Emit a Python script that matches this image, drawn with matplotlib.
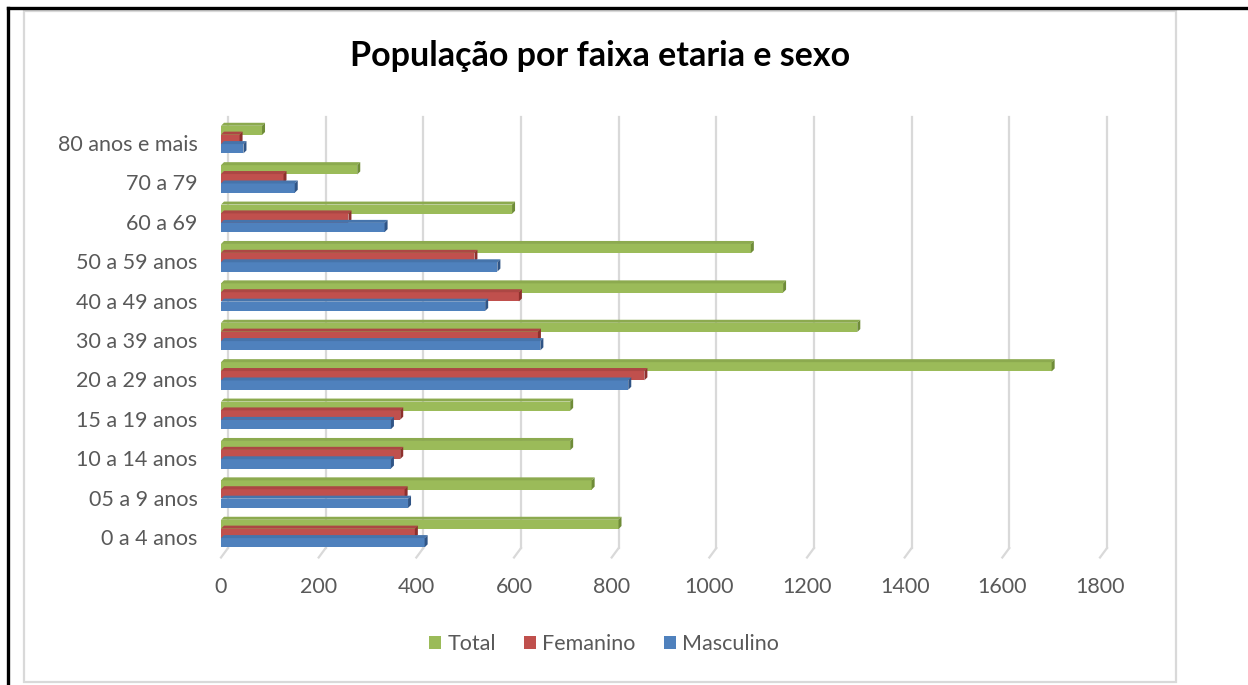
import matplotlib
matplotlib.use("Agg")
import matplotlib.pyplot as plt
from matplotlib.patches import Rectangle, Patch
from matplotlib.lines import Line2D
import numpy as np

plt.rcParams['font.family'] = ['Lato', 'DejaVu Sans']

categories = ["0 a 4 anos", "05 a 9 anos", "10 a 14 anos", "15 a 19 anos",
              "20 a 29 anos", "30 a 39 anos", "40 a 49 anos", "50 a 59 anos",
              "60 a 69", "70 a 79", "80 anos e mais"]
masculino = [417, 383, 348, 348, 834, 654, 541, 566, 335, 151, 46]
feminino = [397, 376, 367, 367, 867, 649, 610, 519, 261, 128, 38]
total = [814, 759, 715, 715, 1701, 1303, 1151, 1085, 596, 279, 84]
xticks = [0, 200, 400, 600, 800, 1000, 1200, 1400, 1600, 1800]

W, H = 1248, 685
fig = plt.figure(figsize=(W / 100, H / 100), dpi=100)
fig.patch.set_facecolor('white')

def fx(px):
    return px / W
def fy(py):
    return 1 - py / H

fig.add_artist(Rectangle((fx(24), fy(682)), fx(1176) - fx(24), fy(11) - fy(682),
                         transform=fig.transFigure, fill=False,
                         edgecolor='#d9d9d9', linewidth=1.6))
fig.add_artist(Line2D([fx(8), fx(1248)], [fy(8), fy(8)], transform=fig.transFigure,
                      color='black', linewidth=2.4))
fig.add_artist(Line2D([fx(8), fx(8)], [fy(8), fy(685)], transform=fig.transFigure,
                      color='black', linewidth=2.4))

ax_left, ax_right = 221, 1100
ax_top, ax_bot = 117, 558
ax = fig.add_axes([fx(ax_left), fy(ax_bot), (ax_right - ax_left) / W, (ax_bot - ax_top) / H])
ax.set_xlim(0, 1800)
ax.set_ylim(-0.533, 10.66)
ax.patch.set_alpha(0)
for s in ax.spines.values():
    s.set_visible(False)

px_per_unit = (ax_right - ax_left) / 1800.0
px_per_cat = 39.4
grid_off = 7 / px_per_unit
y_floor_top = -0.28
y_floor_bot = -0.52

for v in xticks:
    ax.plot([v + grid_off, v + grid_off], [y_floor_top, 10.66], color='#d9d9d9',
            linewidth=1.6, zorder=0, clip_on=False)
    ax.plot([v + grid_off, v], [y_floor_top, y_floor_bot], color='#d9d9d9',
            linewidth=1.6, zorder=0, clip_on=False)

y = np.arange(len(categories))
bh = 0.235
series = [
    ("Total", total, 0.32, '#9BBB59', '#8CAA4F', '#6F8C38'),
    ("Femanino", feminino, 0.095, '#C0504D', '#AC4744', '#8E302D'),
    ("Masculino", masculino, -0.145, '#4F81BD', '#4674AB', '#305586'),
]
dx = 3 / px_per_unit
dy = 3 / px_per_cat
z = 2
for name, vals, off, c_front, c_top, c_side in series:
    for i, v in enumerate(vals):
        yc = y[i] + off
        b, t = yc - bh / 2, yc + bh / 2
        ax.barh(yc, v, height=bh, color=c_front, edgecolor='none', zorder=z)
        ax.fill([0, v, v + dx, dx], [t, t, t + dy, t + dy], color=c_top,
                linewidth=0, zorder=z)
        ax.fill([v, v + dx, v + dx, v], [b, b + dy, t + dy, t], color=c_side,
                linewidth=0, zorder=z)
    z += 1

ax.set_yticks(y)
ax.set_yticklabels(categories)
ax.set_xticks(xticks)
ax.set_xticklabels([str(t) for t in xticks])
ax.tick_params(axis='both', length=0, labelcolor='#595959', labelsize=15.5)
ax.tick_params(axis='y', pad=17)
ax.tick_params(axis='x', pad=14)

fig.text(0.481, fy(56), "População por faixa etaria e sexo", ha='center', va='center',
         fontsize=24.5, fontweight='bold', color='black')

handles = [Patch(facecolor=s[3], edgecolor='none', label=s[0]) for s in series]
fig.legend(handles=handles, loc='center', bbox_to_anchor=(0.484, fy(644)), ncol=3,
           frameon=False, fontsize=15.5, handlelength=0.55, handleheight=0.55,
           handletextpad=0.3, columnspacing=1.3, labelcolor='#595959')

fig.savefig("out.png", dpi=100)
